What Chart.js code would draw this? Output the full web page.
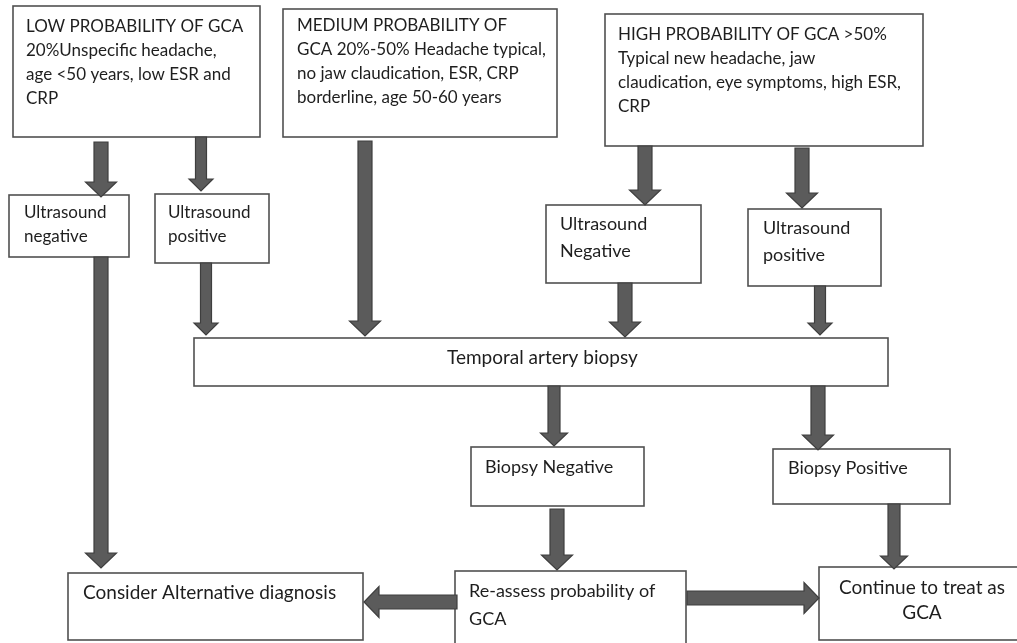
<!DOCTYPE html>
<html>
<head>
<meta charset="utf-8">
<script src="https://cdn.jsdelivr.net/npm/chart.js@4.4.1/dist/chart.umd.min.js"></script>
<style>
  html, body { margin: 0; padding: 0; background: #fff; }
  #wrap { width: 1017px; height: 643px; }
</style>
</head>
<body>
<div id="wrap"><canvas id="flow" width="1017" height="643"></canvas></div>
<script>
// flowchart, in picture units (x right, y down)
const nodeLabels = [
    ['LOW PROBABILITY OF GCA', '20%Unspecific headache,', 'age <50 years, low ESR and', 'CRP'],
    ['MEDIUM PROBABILITY OF', 'GCA 20%-50% Headache typical,', 'no jaw claudication, ESR, CRP', 'borderline, age 50-60 years'],
    ['HIGH PROBABILITY OF GCA >50%', 'Typical new headache, jaw', 'claudication, eye symptoms, high ESR,', 'CRP'],
    ['Ultrasound', 'negative'],
    ['Ultrasound', 'positive'],
    ['Ultrasound', 'Negative'],
    ['Ultrasound', 'positive'],
    ['Temporal artery biopsy'],
    ['Biopsy Negative'],
    ['Biopsy Positive'],
    ['Consider Alternative diagnosis'],
    ['Re-assess probability of', 'GCA'],
    ['Continue to treat as', 'GCA']
];
const nodeLeft   = [13, 283, 605,   9, 155, 546, 748, 194, 471, 773,  68, 455,  819];
const nodeTop    = [ 6,   9,  14, 195, 194, 205, 209, 338, 447, 449, 573, 571,  567];
const nodeRight  = [260, 557, 923, 129, 269, 701, 881, 888, 644, 950, 363, 686, 1025];
const nodeBottom = [137, 137, 146, 257, 263, 283, 286, 386, 506, 504, 640, 660,  640];
// first text line position
const textX     = [26, 297, 618,  24, 168, 560, 763, 447, 485, 788,  83, 469, 922];
const textY     = [27,  26,  35, 213, 213, 224, 228, 358, 467, 468, 593, 591, 588];
const textAlign = ['left','left','left','left','left','left','left','left','left','left','left','left','center'];
// font sizes: heading line / other lines
const headSize  = [17, 17, 17, 17, 17, 18, 18, 19, 18, 18, 19, 18, 19];
const bodySize  = [17, 17, 17, 17, 17, 18, 18, 19, 18, 18, 19, 18, 19];
const lineGap   = [24, 24, 24, 24, 24, 27, 27, 24, 24, 24, 24, 28, 25];

// block arrows: tail point -> tip point
const arrowFromX = [101, 201, 206, 365, 645, 802, 625, 820, 101, 554, 818, 557, 894, 457, 687];
const arrowFromY = [142, 137, 263, 141, 146, 148, 283, 286, 257, 386, 386, 509, 504, 602, 598];
const arrowToX   = [101, 201, 206, 365, 645, 802, 625, 820, 101, 554, 818, 557, 894, 364, 819];
const arrowToY   = [197, 191, 335, 336, 205, 208, 337, 335, 568, 446, 450, 570, 569, 602, 598];
const arrowSize  = ['big','small','small','big','big','big','big','small','big','mid','big','big','mid','big','big'];

const arrowStyles = {
    big:   { shaft: 14, head: 31, len: 15 },
    mid:   { shaft: 12, head: 27, len: 13 },
    small: { shaft: 11, head: 24, len: 12 }
};

const FONT = 'Lato, "Open Sans", sans-serif';

function drawArrow(ctx, x0, y0, x1, y1, st) {
    const dx = x1 - x0, dy = y1 - y0;
    const L = Math.sqrt(dx * dx + dy * dy);
    const ux = dx / L, uy = dy / L;      // along
    const px = -uy, py = ux;             // across
    const sw = st.shaft / 2, hw = st.head / 2;
    const bx = x1 - ux * st.len, by = y1 - uy * st.len;
    ctx.beginPath();
    ctx.moveTo(x0 + px * sw, y0 + py * sw);
    ctx.lineTo(bx + px * sw, by + py * sw);
    ctx.lineTo(bx + px * hw, by + py * hw);
    ctx.lineTo(x1, y1);
    ctx.lineTo(bx - px * hw, by - py * hw);
    ctx.lineTo(bx - px * sw, by - py * sw);
    ctx.lineTo(x0 - px * sw, y0 - py * sw);
    ctx.closePath();
    ctx.fillStyle = '#5b5b5b';
    ctx.fill();
    ctx.lineWidth = 1.2;
    ctx.strokeStyle = '#3e3e3e';
    ctx.stroke();
}

const flowPlugin = {
    id: 'flow',
    afterDatasetsDraw(chart) {
        const ctx = chart.ctx;
        const sx = chart.scales.x, sy = chart.scales.y;
        const X = v => sx.getPixelForValue(v);
        const Y = v => sy.getPixelForValue(v);
        ctx.save();
        // boxes
        nodeLabels.forEach((lines, i) => {
            const x0 = X(nodeLeft[i]), y0 = Y(nodeTop[i]);
            const x1 = X(nodeRight[i]), y1 = Y(nodeBottom[i]);
            ctx.fillStyle = '#fff';
            ctx.fillRect(x0, y0, x1 - x0, y1 - y0);
            ctx.lineWidth = 1.6;
            ctx.strokeStyle = '#505050';
            ctx.strokeRect(x0, y0, x1 - x0, y1 - y0);
            ctx.fillStyle = '#1e1e1e';
            ctx.textAlign = textAlign[i];
            ctx.textBaseline = 'middle';
            lines.forEach((t, j) => {
                const size = j === 0 ? headSize[i] : bodySize[i];
                ctx.font = size + 'px ' + FONT;
                ctx.fillText(t, X(textX[i]), Y(textY[i] + j * lineGap[i]));
            });
        });
        // arrows
        arrowFromX.forEach((_, i) => {
            drawArrow(ctx, X(arrowFromX[i]), Y(arrowFromY[i]), X(arrowToX[i]), Y(arrowToY[i]),
                arrowStyles[arrowSize[i]]);
        });
        ctx.restore();
    }
};

const centres = nodeLabels.map((_, i) => ({
    x: (nodeLeft[i] + nodeRight[i]) / 2,
    y: (nodeTop[i] + nodeBottom[i]) / 2
}));

new Chart(document.getElementById('flow'), {
    type: 'scatter',
    data: { datasets: [{ data: centres, pointRadius: 0, showLine: false }] },
    options: {
        responsive: false,
        animation: false,
        layout: { padding: 0 },
        plugins: { legend: { display: false }, tooltip: { enabled: false } },
        scales: {
            x: { type: 'linear', min: 0, max: 1017, display: false },
            y: { type: 'linear', min: 0, max: 643, reverse: true, display: false }
        }
    },
    plugins: [flowPlugin]
});
</script>
</body>
</html>
